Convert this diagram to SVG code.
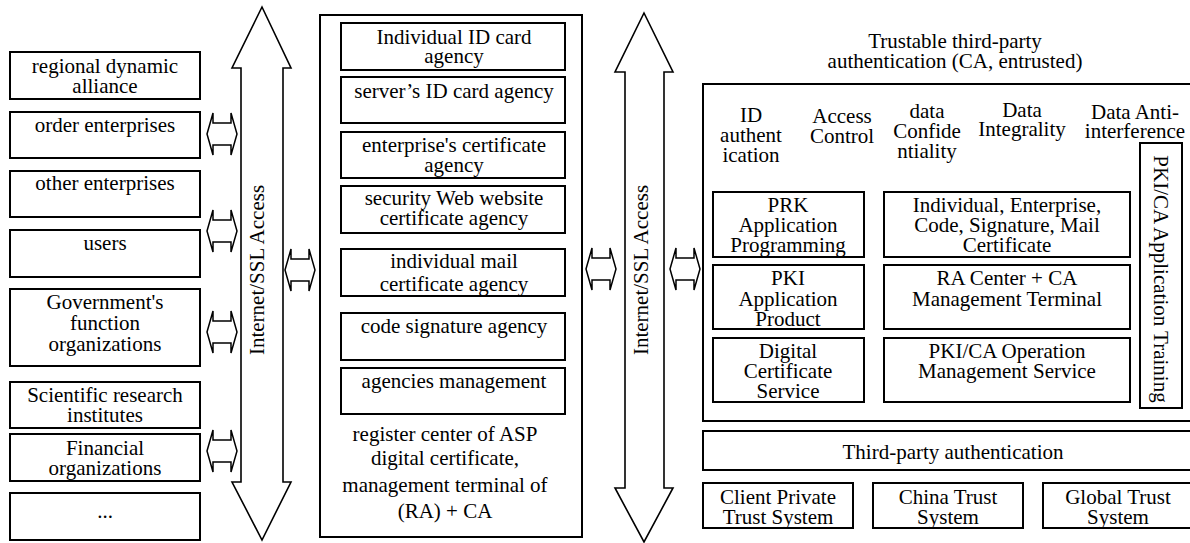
<svg xmlns="http://www.w3.org/2000/svg" xmlns:xlink="http://www.w3.org/1999/xlink" width="1190" height="543" viewBox="0 0 1190 543">
<style>
.box{fill:#fff;stroke:#000;stroke-width:2}
.big{fill:#fff;stroke:#000;stroke-width:1.6}
.arr{fill:#fff;stroke:#000;stroke-width:1.5;stroke-linejoin:miter}
text{font-family:"Liberation Serif","Times New Roman",serif;font-size:21px;fill:#000;text-anchor:middle}
</style>
<defs>
<path id="dbl" d="M-15,0 L-9,-21 L-9,-11 L9,-11 L9,-21 L15,0 L9,21 L9,11 L-9,11 L-9,21 Z"/>
</defs>
<rect width="1190" height="543" fill="#fff"/>

<g id="connectors">
<polygon class="big" points="262,7 291,68 283,68 283,482 291,482 262,540 232,482 241,482 241,68 232,68"/>
<text transform="translate(264,270) rotate(-90)">Internet/SSL Access</text>
<polygon class="big" points="644,13 673,72 664,72 664,488 673,488 644,542 615,488 625,488 625,72 615,72"/>
<text transform="translate(648,270) rotate(-90)">Internet/SSL Access</text>
<use href="#dbl" xlink:href="#dbl" class="arr" x="222" y="134"/>
<use href="#dbl" xlink:href="#dbl" class="arr" x="222" y="231"/>
<use href="#dbl" xlink:href="#dbl" class="arr" x="222" y="332"/>
<use href="#dbl" xlink:href="#dbl" class="arr" x="222" y="451"/>
<use href="#dbl" xlink:href="#dbl" class="arr" x="300" y="270"/>
<use href="#dbl" xlink:href="#dbl" class="arr" x="601" y="269"/>
<use href="#dbl" xlink:href="#dbl" class="arr" x="685" y="269"/>
</g>

<g id="left-nodes">
<g id="n-regional"><rect class="box" x="10" y="52" width="190" height="47"/><text x="105" y="73">regional dynamic</text><text x="105" y="93">alliance</text></g>
<g id="n-order"><rect class="box" x="10" y="112" width="190" height="46"/><text x="105" y="132">order enterprises</text></g>
<g id="n-other"><rect class="box" x="10" y="171" width="190" height="46"/><text x="105" y="190">other enterprises</text></g>
<g id="n-users"><rect class="box" x="10" y="230" width="190" height="47"/><text x="105" y="250">users</text></g>
<g id="n-gov"><rect class="box" x="10" y="289" width="190" height="77"/><text x="105" y="309">Government's</text><text x="105" y="330">function</text><text x="105" y="351">organizations</text></g>
<g id="n-sci"><rect class="box" x="10" y="382" width="190" height="46"/><text x="105" y="402">Scientific research</text><text x="105" y="422">institutes</text></g>
<g id="n-fin"><rect class="box" x="10" y="434" width="190" height="47"/><text x="105" y="455">Financial</text><text x="105" y="475">organizations</text></g>
<g id="n-etc"><rect class="box" x="10" y="493" width="190" height="47"/><text x="105" y="518">...</text></g>
</g>

<g id="middle">
<g id="n-ra"><rect class="box" x="320" y="15" width="262" height="522"/>
<text x="445" y="441">register center of ASP</text><text x="445" y="465">digital certificate,</text><text x="445" y="492">management terminal of</text><text x="445" y="518">(RA) + CA</text></g>
<g id="n-indid"><rect class="box" x="341" y="23" width="224" height="47"/><text x="454" y="44">Individual ID card</text><text x="454" y="63">agency</text></g>
<g id="n-server"><rect class="box" x="341" y="77" width="224" height="46"/><text x="454" y="98">server’s ID card agency</text></g>
<g id="n-ent"><rect class="box" x="341" y="132" width="224" height="46"/><text x="454" y="152">enterprise's certificate</text><text x="454" y="172">agency</text></g>
<g id="n-web"><rect class="box" x="341" y="186" width="224" height="47"/><text x="454" y="205">security Web website</text><text x="454" y="225">certificate agency</text></g>
<g id="n-mail"><rect class="box" x="341" y="249" width="224" height="47"/><text x="454" y="268">individual mail</text><text x="454" y="291">certificate agency</text></g>
<g id="n-code"><rect class="box" x="341" y="313" width="224" height="47"/><text x="454" y="333">code signature agency</text></g>
<g id="n-mgmt"><rect class="box" x="341" y="368" width="224" height="46"/><text x="454" y="388">agencies management</text></g>
</g>

<g id="right">
<g id="n-ca"><text x="955" y="48">Trustable third-party</text><text x="955" y="68">authentication (CA, entrusted)</text>
<rect class="box" x="703" y="84" width="500" height="337"/>
<text x="751" y="122">ID</text><text x="751" y="142">authent</text><text x="751" y="162">ication</text>
<text x="842" y="123">Access</text><text x="842" y="143">Control</text>
<text x="927" y="118">data</text><text x="927" y="138">Confide</text><text x="927" y="158">ntiality</text>
<text x="1022" y="117">Data</text><text x="1022" y="136">Integrality</text>
<text x="1135" y="119">Data Anti-</text><text x="1135" y="138">interference</text></g>
<g id="n-training"><rect class="box" x="1140" y="143" width="42" height="265"/><text transform="translate(1154,279) rotate(90)">PKI/CA Application Training</text></g>
<g id="n-prk"><rect class="box" x="713" y="192" width="151" height="65"/><text x="788" y="212">PRK</text><text x="788" y="232">Application</text><text x="788" y="252">Programming</text></g>
<g id="n-cert"><rect class="box" x="884" y="192" width="246" height="65"/><text x="1007" y="212">Individual, Enterprise,</text><text x="1007" y="232">Code, Signature, Mail</text><text x="1007" y="252">Certificate</text></g>
<g id="n-pki"><rect class="box" x="713" y="265" width="151" height="64"/><text x="788" y="285">PKI</text><text x="788" y="306">Application</text><text x="788" y="326">Product</text></g>
<g id="n-racenter"><rect class="box" x="884" y="265" width="246" height="64"/><text x="1007" y="285">RA Center + CA</text><text x="1007" y="306">Management Terminal</text></g>
<g id="n-dcs"><rect class="box" x="713" y="338" width="151" height="64"/><text x="788" y="358">Digital</text><text x="788" y="378">Certificate</text><text x="788" y="398">Service</text></g>
<g id="n-ops"><rect class="box" x="884" y="338" width="246" height="64"/><text x="1007" y="358">PKI/CA Operation</text><text x="1007" y="378">Management Service</text></g>
<g id="n-third"><rect class="box" x="703" y="431" width="500" height="39"/><text x="953" y="459">Third-party authentication</text></g>
<g id="n-client"><rect class="box" x="703" y="483" width="150" height="45"/><text x="778" y="504">Client Private</text><text x="778" y="524">Trust System</text></g>
<g id="n-china"><rect class="box" x="873" y="483" width="150" height="45"/><text x="948" y="504">China Trust</text><text x="948" y="524">System</text></g>
<g id="n-global"><rect class="box" x="1043" y="483" width="150" height="45"/><text x="1118" y="504">Global Trust</text><text x="1118" y="524">System</text></g>
</g>
</svg>
